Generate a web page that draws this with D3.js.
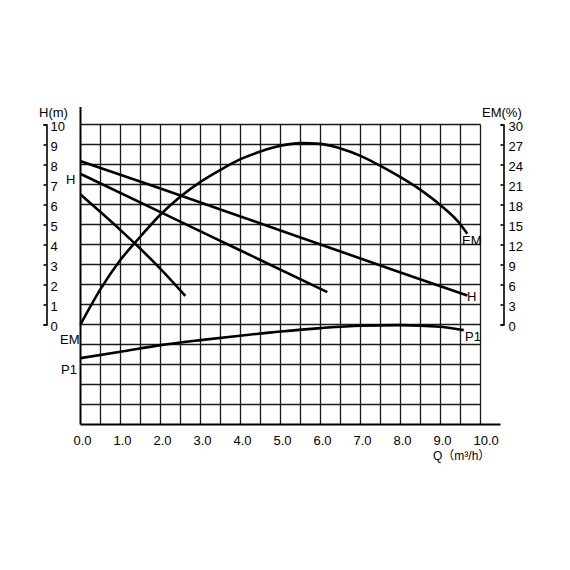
<!DOCTYPE html>
<html>
<head>
<meta charset="utf-8">
<script src="https://cdn.jsdelivr.net/npm/d3@7"></script>
<style>
  body { margin: 0; background: #fff; }
  svg { display: block; font-family: "Liberation Sans", Arial, "Noto Sans CJK SC", sans-serif; }
</style>
</head>
<body>
<div id="chart"></div>
<script>
// flow Q (m3/h) tick labels
const qTicks = [0, 1, 2, 3, 4, 5, 6, 7, 8, 9, 10];
const hTicks = [0, 1, 2, 3, 4, 5, 6, 7, 8, 9, 10];
const emTicks = [0, 3, 6, 9, 12, 15, 18, 21, 24, 27, 30];

// head curves, three speeds
const h1Q = [0, 2, 4, 6, 8, 9.67];
const h1H = [8.17, 6.8, 5.4, 4.0, 2.6, 1.45];
const h2Q = [0, 2, 4, 6.17];
const h2H = [7.53, 5.62, 3.7, 1.62];
const h3Q = [0, 0.5, 1.0, 1.5, 2.0, 2.62];
const h3H = [6.5, 5.62, 4.72, 3.78, 2.78, 1.43];

// efficiency EM (%)
const emQ = [0, 0.5, 1.0, 1.5, 2.0, 2.5, 3.0, 3.5, 4.0, 4.5, 5.0, 5.5, 6.0, 6.5, 7.0, 7.5, 8.0, 8.5, 9.0, 9.5, 9.67];
const emV = [0, 5.3, 9.7, 13.2, 16.5, 19.2, 21.4, 23.2, 24.8, 25.95, 26.8, 27.2, 27.1, 26.4, 25.3, 23.8, 22.1, 20.2, 17.9, 15.0, 13.6];

// input power P1 (W, no printed scale)
const p1Q = [0, 1, 2, 3, 4, 5, 6, 7, 8, 9, 9.58];
const p1V = [33.2, 36.4, 39.7, 42.2, 44.4, 46.5, 48.2, 49.4, 49.7, 48.9, 47.2];

document.addEventListener("DOMContentLoaded", function() {

  const width = 570, height = 570;
  const font = 13;

  const svg = d3.select("#chart")
                .append("svg")
                .attr("width", width)
                .attr("height", height);

  const x = d3.scaleLinear().domain([0, 10]).range([80.5, 480.5]);
  const yH = d3.scaleLinear().domain([0, 10]).range([324.5, 124.5]);
  const yEM = d3.scaleLinear().domain([0, 30]).range([324.5, 124.5]);
  const yP1 = d3.scaleLinear().domain([0, 50]).range([424.5, 324.5]);

  // grid: half-unit columns, unit rows down to -5
  const grid = svg.append("g")
                  .attr("stroke", "#1a1a1a")
                  .attr("stroke-width", 1.3);

  grid.selectAll("line.v")
      .data(d3.range(1, 21).map(i => i / 2))
      .enter().append("line")
      .attr("class", "v")
      .attr("x1", d => x(d)).attr("x2", d => x(d))
      .attr("y1", yH(10)).attr("y2", yH(-5));

  grid.selectAll("line.h")
      .data(d3.range(-4, 11))
      .enter().append("line")
      .attr("class", "h")
      .attr("x1", x(0)).attr("x2", x(10))
      .attr("y1", d => yH(d)).attr("y2", d => yH(d));

  // main axes
  svg.append("line")
     .attr("x1", x(0)).attr("x2", x(0))
     .attr("y1", 107).attr("y2", yH(-5))
     .attr("stroke", "#000").attr("stroke-width", 2);

  svg.append("line")
     .attr("x1", x(0)).attr("x2", 500.5)
     .attr("y1", yH(-5)).attr("y2", yH(-5))
     .attr("stroke", "#000").attr("stroke-width", 2);

  // x tick labels
  svg.selectAll("text.qtick")
     .data(qTicks)
     .enter().append("text")
     .attr("class", "qtick")
     .attr("x", d => x(d) - 7)
     .attr("y", 445)
     .attr("font-size", font)
     .text(d => d.toFixed(1));

  svg.append("text")
     .attr("x", 433)
     .attr("y", 460)
     .attr("font-size", 12)
     .text("Q（m³/h）");

  // side scales
  const hAxis = d3.axisRight(yH).tickValues(hTicks).tickSize(-3).tickPadding(4);
  const emAxis = d3.axisRight(yEM).tickValues(emTicks).tickSize(-3).tickPadding(5);

  const gH = svg.append("g").attr("transform", "translate(46.5,0)").call(hAxis);
  const gEM = svg.append("g").attr("transform", "translate(503.5,0)").call(emAxis);

  [gH, gEM].forEach(g => {
    g.select(".domain").attr("stroke-width", 1.6);
    g.selectAll(".tick line").attr("stroke-width", 1.6);
    g.selectAll(".tick text")
     .attr("font-size", font)
     .attr("font-family", null)
     .attr("fill", "#000")
     .attr("dy", "0.45em");
  });

  svg.append("text").attr("x", 39).attr("y", 117).attr("font-size", font).text("H(m)");
  svg.append("text").attr("x", 482).attr("y", 117).attr("font-size", font).text("EM(%)");

  // curves
  const curves = [
    { q: h1Q, v: h1H, y: yH },
    { q: h2Q, v: h2H, y: yH },
    { q: h3Q, v: h3H, y: yH },
    { q: emQ, v: emV, y: yEM },
    { q: p1Q, v: p1V, y: yP1 }
  ];

  curves.forEach(c => {
    const line = d3.line()
                   .x(i => x(c.q[i]))
                   .y(i => c.y(c.v[i]))
                   .curve(d3.curveMonotoneX);
    svg.append("path")
       .attr("d", line(d3.range(c.q.length)))
       .attr("fill", "none")
       .attr("stroke", "#000")
       .attr("stroke-width", 2.6);
  });

  // curve names
  const names = [
    ["H", 66, 184], ["EM", 60, 344], ["P1", 61, 374],
    ["EM", 462, 245], ["H", 467, 301], ["P1", 465, 341]
  ];
  svg.selectAll("text.name")
     .data(names)
     .enter().append("text")
     .attr("class", "name")
     .attr("x", d => d[1])
     .attr("y", d => d[2])
     .attr("font-size", font)
     .text(d => d[0]);
});
</script>
</body>
</html>
